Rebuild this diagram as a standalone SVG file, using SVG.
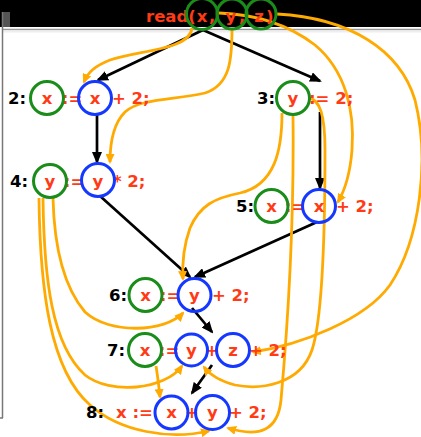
<svg xmlns="http://www.w3.org/2000/svg" width="421" height="437" viewBox="0 0 421 437">
<defs>
<style>
.t{font-family:"DejaVu Sans","Liberation Sans",sans-serif;font-weight:bold;font-size:16.5px;fill:#ff3a14}
.l{font-family:"DejaVu Sans","Liberation Sans",sans-serif;font-weight:bold;font-size:16.5px;fill:#000}
.m{text-anchor:middle}
.g{fill:none;stroke:#1a8c1a;stroke-width:3}
.b{fill:none;stroke:#1438ff;stroke-width:3}
.k{fill:none;stroke:#000;stroke-width:2.7}
.o{fill:none;stroke:#ffaa00;stroke-width:2.8}
</style>
<marker id="ak" markerUnits="userSpaceOnUse" markerWidth="12" markerHeight="10" refX="10" refY="5" orient="auto"><path d="M0,0 L12,5 L0,10 z" fill="#000"/></marker>
<marker id="ao" markerUnits="userSpaceOnUse" markerWidth="10" markerHeight="9" refX="8" refY="4.5" orient="auto"><path d="M0,0 L10,4.5 L0,9 z" fill="#ffaa00"/></marker>
</defs>
<rect x="0" y="0" width="421" height="437" fill="#fff"/>
<g id="frame">
<rect x="0" y="0" width="421" height="27" fill="#000"/>
<rect x="3" y="12" width="7" height="15" fill="#555"/>
<line x1="3" y1="29.5" x2="421" y2="29.5" stroke="#999" stroke-width="1.5"/>
<rect x="3" y="30.5" width="418" height="2" fill="#eee"/>
<line x1="2.5" y1="12" x2="2.5" y2="418" stroke="#777" stroke-width="1.5"/>
<line x1="0" y1="418" x2="3" y2="418" stroke="#777" stroke-width="1.5"/>
</g>
<g id="connectors">
<path class="k" d="M203,30 L98,80" marker-end="url(#ak)"/>
<path class="k" d="M203,30 L320,81" marker-end="url(#ak)"/>
<path class="k" d="M97,115 L97,162" marker-end="url(#ak)"/>
<path class="k" d="M320,112 L320,188" marker-end="url(#ak)"/>
<path class="k" d="M100,196 L190,277" marker-end="url(#ak)"/>
<path class="k" d="M317,222 L195,277" marker-end="url(#ak)"/>
<path class="k" d="M192,308 L212,332" marker-end="url(#ak)"/>
<path class="k" d="M212,365 L192,393" marker-end="url(#ak)"/>
<path class="o" d="M192,28 C190,50 140,50 110,60 C95,66 88,72 84,82" marker-end="url(#ao)"/>
<path class="o" d="M232,29 C232,60 230,85 205,93 C175,100 140,98 125,112 C112,125 110,145 110,162" marker-end="url(#ao)"/>
<path class="o" d="M219,13 C250,14 285,22 315,45 C345,70 355,110 352,150 C350,175 345,190 338,202" marker-end="url(#ao)"/>
<path class="o" d="M277,14 C350,18 400,50 415,100 C430,160 420,240 390,285 C365,320 300,345 253,352" marker-end="url(#ao)"/>
<path class="o" d="M282,113 C282,150 275,185 240,193 C215,198 200,205 190,228 C184,245 182,262 183,279" marker-end="url(#ao)"/>
<path class="o" d="M293,115 C294,200 290,300 281,400 C278,430 260,438 228,428" marker-end="url(#ao)"/>
<path class="o" d="M309,98 C320,100 325,115 325,150 C325,230 322,320 312,350 C300,385 260,390 235,385 C220,381 210,375 204,367" marker-end="url(#ao)"/>
<path class="o" d="M53,198 C54,240 62,285 85,312 C110,335 165,332 183,313" marker-end="url(#ao)"/>
<path class="o" d="M43,198 C44,280 52,345 85,375 C110,395 165,390 182,366" marker-end="url(#ao)"/>
<path class="o" d="M39,198 C40,290 50,370 90,405 C120,432 170,440 209,431" marker-end="url(#ao)"/>
<path class="o" d="M156,366 C158,378 159,388 160,397" marker-end="url(#ao)"/>
</g>
<g id="n1">
<text class="t" x="146" y="22">read(</text>
<text class="t m" x="202" y="22">x</text><text class="t" x="209" y="22">,</text>
<text class="t m" x="231" y="22">y</text><text class="t" x="239" y="22">,</text>
<text class="t m" x="259" y="22">z</text><text class="t" x="266" y="22">)</text>
<circle class="g" cx="202" cy="14" r="15.5"/>
<circle class="g" cx="232" cy="14" r="15"/>
<circle class="g" cx="261" cy="14" r="15"/>
</g>
<g id="n2">
<text class="l" x="8" y="104">2:</text>
<text class="t m" x="47" y="104">x</text>
<text class="t m" x="72" y="104">:=</text>
<text class="t m" x="95" y="104">x</text>
<text class="t" x="112" y="104">+ 2;</text>
<circle class="g" cx="47" cy="98" r="16.5"/>
<circle class="b" cx="95" cy="98" r="16.5"/>
</g>
<g id="n3">
<text class="l" x="257" y="104">3:</text>
<text class="t m" x="293" y="104">y</text>
<text class="t" x="309" y="104">:= 2;</text>
<circle class="g" cx="293" cy="98" r="16.5"/>
</g>
<g id="n4">
<text class="l" x="10" y="187">4:</text>
<text class="t m" x="50" y="187">y</text>
<text class="t m" x="74" y="187">:=</text>
<text class="t m" x="98" y="187">y</text>
<text class="t" x="113" y="187">* 2;</text>
<circle class="g" cx="50" cy="181" r="16.5"/>
<circle class="b" cx="98" cy="180" r="16.5"/>
</g>
<g id="n5">
<text class="l" x="236" y="212">5:</text>
<text class="t m" x="271.5" y="212">x</text>
<text class="t m" x="295" y="212">:=</text>
<text class="t m" x="319" y="212">x</text>
<text class="t" x="336" y="212">+ 2;</text>
<circle class="g" cx="271.5" cy="206" r="16.5"/>
<circle class="b" cx="319" cy="206" r="16.5"/>
</g>
<g id="n6">
<text class="l" x="109" y="301">6:</text>
<text class="t m" x="145.5" y="301">x</text>
<text class="t m" x="170" y="301">:=</text>
<text class="t m" x="194.5" y="301">y</text>
<text class="t" x="212" y="301">+ 2;</text>
<circle class="g" cx="145.5" cy="295" r="16.5"/>
<circle class="b" cx="194.5" cy="295" r="16.5"/>
</g>
<g id="n7">
<text class="l" x="107" y="356">7:</text>
<text class="t m" x="145" y="356">x</text>
<text class="t m" x="169" y="356">:=</text>
<text class="t m" x="191.5" y="356">y</text>
<text class="t m" x="212" y="356">+</text>
<text class="t m" x="233" y="356">z</text>
<text class="t" x="249" y="356">+ 2;</text>
<circle class="g" cx="145" cy="350" r="16.5"/>
<circle class="b" cx="191.5" cy="350" r="16"/>
<circle class="b" cx="233" cy="350" r="16.5"/>
</g>
<g id="n8">
<text class="l" x="86" y="418">8:</text>
<text class="t" x="116" y="418">x :=</text>
<text class="t m" x="171.5" y="418">x</text>
<text class="t m" x="192" y="418">+</text>
<text class="t m" x="212.5" y="418">y</text>
<text class="t" x="229" y="418">+ 2;</text>
<circle class="b" cx="171.5" cy="412.5" r="16.5"/>
<circle class="b" cx="212.5" cy="412.5" r="17"/>
</g>
</svg>
